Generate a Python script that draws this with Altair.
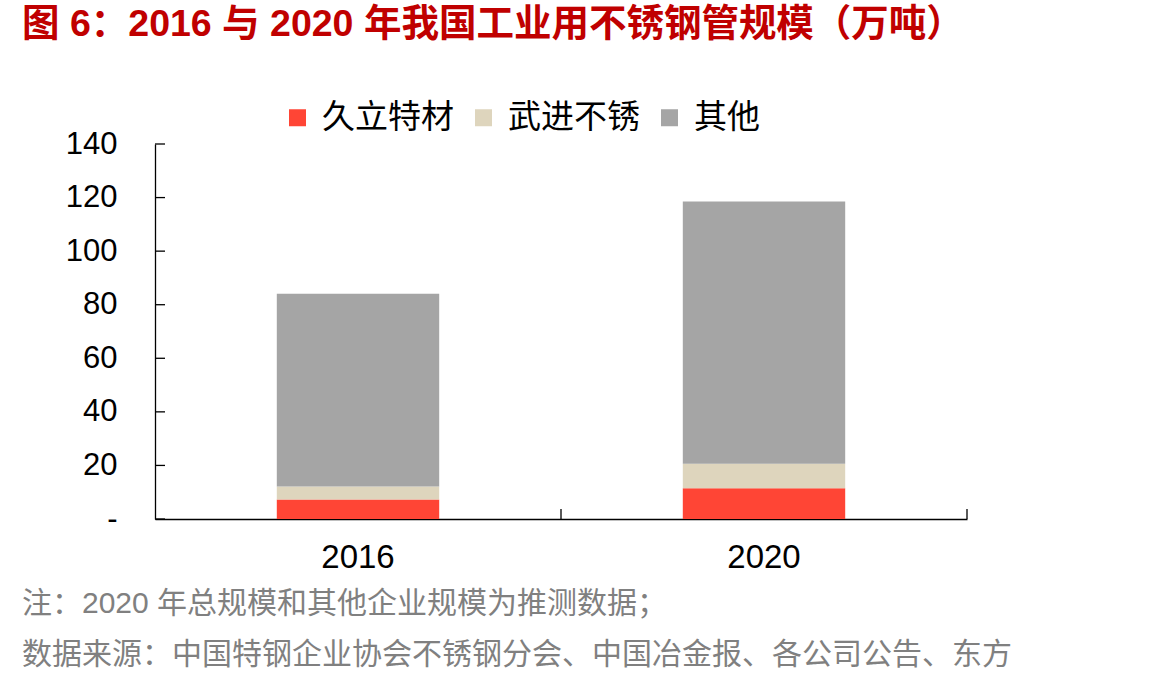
import altair as alt
import pandas as pd

years = ["2016", "2020"]
series = ["久立特材", "武进不锈", "其他"]
jiuli = [7.3, 11.5]
wujin = [4.8, 9.1]
other = [72.0, 97.9]
colors = ["#FF4535", "#DED5BD", "#A5A5A5"]
y_ticks = [0, 20, 40, 60, 80, 100, 120, 140]
x_bounds = [1, 2]

title_text = "图 6：2016 与 2020 年我国工业用不锈钢管规模（万吨）"
note1 = "注：2020 年总规模和其他企业规模为推测数据；"
note2 = "数据来源：中国特钢企业协会不锈钢分会、中国冶金报、各公司公告、东方"

FONT = "Liberation Sans, Arial, Noto Sans CJK SC"
W, H = 812, 375

rows = []
for i, y in enumerate(years):
    for k, (s, vals) in enumerate(zip(series, [jiuli, wujin, other])):
        rows.append({"year": y, "series": s, "value": vals[i], "ord": k})
df = pd.DataFrame(rows)

bars = alt.Chart(df).mark_bar().encode(
    x=alt.X("year:N", sort=years,
            scale=alt.Scale(paddingInner=0.6, paddingOuter=0.3),
            axis=alt.Axis(title=None, labelAngle=0, ticks=False, labelFontSize=33,
                          labelColor="black", labelFont=FONT, labelPadding=22,
                          domainColor="black", domainWidth=1.3)),
    y=alt.Y("value:Q", stack="zero",
            scale=alt.Scale(domain=[0, 140], nice=False),
            axis=alt.Axis(title=None, values=y_ticks, grid=False, ticks=False,
                          labelFontSize=31, labelColor="black", labelFont=FONT,
                          labelPadding=38, domainColor="black", domainWidth=1.3,
                          labelExpr="datum.value == 0 ? '-\u00a0\u00a0' : datum.label")),
    color=alt.Color("series:N", sort=series,
                    scale=alt.Scale(domain=series, range=colors),
                    legend=alt.Legend(title=None, orient="none", direction="horizontal",
                                      legendX=126, legendY=-43, padding=0,
                                      symbolType="square",
                                      symbolSize=289, symbolStrokeWidth=0,
                                      labelFontSize=33, labelFont=FONT, labelColor="black",
                                      labelOffset=8, columnPadding=13)),
    order=alt.Order("ord:Q", sort="ascending"),
)

ytick_df = pd.DataFrame({"v": y_ticks})
yticks = alt.Chart(ytick_df).mark_rule(color="black", strokeWidth=1.3).encode(
    y=alt.Y("v:Q"),
    x=alt.value(0),
    x2=alt.value(10),
)

xtick_df = pd.DataFrame({"b": x_bounds})
xticks = alt.Chart(xtick_df).mark_rule(color="black", strokeWidth=1.3).encode(
    x=alt.X("b:Q", scale=alt.Scale(domain=[0, 2]), axis=None),
    y=alt.value(H),
    y2=alt.value(H - 10),
)

def text_layer(t, y, size, color, bold=False):
    return alt.Chart(pd.DataFrame({"t": [t]})).mark_text(
        align="left", baseline="middle", fontSize=size, font=FONT,
        fontWeight="bold" if bold else "normal", color=color,
    ).encode(text="t:N", x=alt.value(-133), y=alt.value(y))

title = text_layer(title_text, -119, 37.5, "#C00000", bold=True)
n1 = text_layer(note1, 460, 30, "#808080")
n2 = text_layer(note2, 511, 30, "#808080")

chart = alt.layer(bars, yticks, xticks, title, n1, n2).resolve_scale(
    x="independent"
).properties(
    width=W, height=H,
    autosize=alt.AutoSizeParams(type="none"),
    padding={"left": 155, "top": 144, "right": 198, "bottom": 164},
    background="white",
).configure_view(stroke=None)

chart.save("out.html", embed_options={"renderer": "svg", "actions": False})
